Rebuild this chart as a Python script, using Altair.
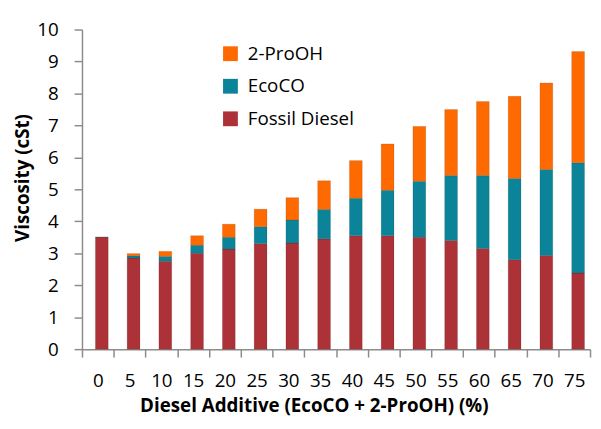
import altair as alt
import pandas as pd

additive = [0, 5, 10, 15, 20, 25, 30, 35, 40, 45, 50, 55, 60, 65, 70, 75]
fossil = [3.50, 2.85, 2.75, 3.00, 3.13, 3.30, 3.32, 3.45, 3.55, 3.55, 3.50, 3.40, 3.15, 2.80, 2.93, 2.38]
ecoco = [0.00, 0.07, 0.15, 0.25, 0.37, 0.53, 0.72, 0.92, 1.17, 1.42, 1.75, 2.03, 2.28, 2.54, 2.69, 3.45]
prooh = [0.00, 0.07, 0.16, 0.30, 0.41, 0.55, 0.70, 0.90, 1.18, 1.45, 1.72, 2.07, 2.32, 2.57, 2.71, 3.48]

series = ["2-ProOH", "EcoCO", "Fossil Diesel"]
colors = ["#FF6A00", "#0B8499", "#AC3237"]

rows = []
for i, a in enumerate(additive):
    for name, vals, order in [("Fossil Diesel", fossil, 0), ("EcoCO", ecoco, 1), ("2-ProOH", prooh, 2)]:
        rows.append({"Additive": str(a), "Series": name, "Value": vals[i], "Order": order})
df = pd.DataFrame(rows)

FONT = "Open Sans"

chart = alt.Chart(df).mark_bar(size=13, xOffset=4, stroke="#00000030", strokeWidth=0.6).encode(
    x=alt.X("Additive:N", sort=[str(a) for a in additive],
            scale=alt.Scale(paddingInner=0.0, paddingOuter=0.0),
            axis=alt.Axis(title="Diesel Additive (EcoCO + 2-ProOH) (%)", labelAngle=0,
                          tickBand="extent", tickSize=8, labelPadding=15,
                          titlePadding=6, titleX=235, titleAlign="center")),
    y=alt.Y("Value:Q", stack="zero",
            scale=alt.Scale(domain=[0, 10], nice=False),
            axis=alt.Axis(title="Viscosity (cSt)", values=list(range(0, 11)), grid=False,
                          tickSize=8, labelPadding=16, titleX=-50, titleY=150,
                          titleAlign="center")),
    color=alt.Color("Series:N", scale=alt.Scale(domain=series, range=colors),
                    legend=alt.Legend(title=None, orient="none", legendX=141, legendY=15,
                                      symbolType="square", symbolSize=225,
                                      symbolStrokeWidth=0, labelFontSize=19,
                                      labelFont=FONT, rowPadding=13, labelOffset=8)),
    order=alt.Order("Order:Q", sort="ascending"),
).properties(
    width=515, height=324,
    autosize=alt.AutoSizeParams(type="none"),
    padding={"left": 75, "top": 19, "right": 3, "bottom": 70},
).configure_view(stroke=None).configure_axis(
    domainColor="#8C8C8C", tickColor="#8C8C8C", domainWidth=1.5, tickWidth=1.5,
    labelFont=FONT, labelFontSize=19, labelColor="#000000",
    titleFont=FONT, titleFontSize=19, titleFontWeight="bold", titleColor="#000000",
)

chart.save("out.html", embed_options={"renderer": "svg", "actions": False})
